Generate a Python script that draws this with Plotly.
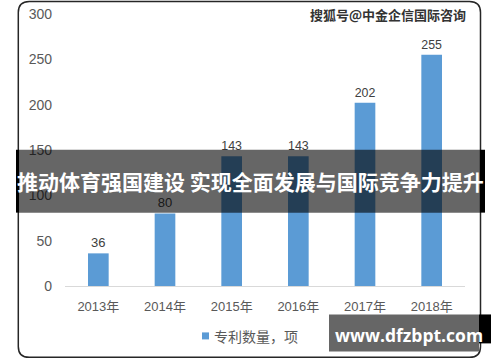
import plotly.graph_objects as go

years = ["2013年", "2014年", "2015年", "2016年", "2017年", "2018年"]
patents = [36, 80, 143, 143, 202, 255]
series_name = "专利数量，项"
y_ticks = [0, 50, 100, 150, 200, 250, 300]
title_text = "推动体育强国建设 实现全面发展与国际竞争力提升"
watermark_text = "搜狐号@中金企信国际咨询"
site_text = "www.dfzbpt.com"

W, H = 500, 362
L, R, T, B = 65, 35, 14, 75.5
PW = W - L - R
PH = H - T - B

def px(x):
    return (x - L) / PW

def py(y):
    return (H - B - y) / PH

FONT = "Liberation Sans, Noto Sans CJK SC, sans-serif"
CJK = "Noto Sans CJK SC, sans-serif"
GREY = "#595959"
BLUE = "#5b9bd5"

fig = go.Figure()
fig.add_trace(go.Bar(
    x=years, y=patents, name=series_name,
    marker=dict(color=BLUE, line=dict(width=0)),
    text=patents, textposition="outside", cliponaxis=False,
    textfont=dict(size=13, color="#404040", family=FONT),
    showlegend=False,
))

shapes = []
# rounded outer frame
x0, x1, y0, y1, r = 18.3, 480.5, 1.5, 358, 11
path = (f"M {px(x0+r)},{py(y0)} L {px(x1-r)},{py(y0)} "
        f"Q {px(x1)},{py(y0)} {px(x1)},{py(y0+r)} L {px(x1)},{py(y1-r)} "
        f"Q {px(x1)},{py(y1)} {px(x1-r)},{py(y1)} L {px(x0+r)},{py(y1)} "
        f"Q {px(x0)},{py(y1)} {px(x0)},{py(y1-r)} L {px(x0)},{py(y0+r)} "
        f"Q {px(x0)},{py(y0)} {px(x0+r)},{py(y0)} Z")
shapes.append(dict(type="path", path=path, xref="paper", yref="paper",
                   line=dict(color="#262626", width=1.5), layer="above"))

def rect(xa, ya, xb, yb, color):
    shapes.append(dict(type="rect", xref="paper", yref="paper",
                       x0=px(xa), x1=px(xb), y0=py(yb), y1=py(ya),
                       fillcolor=color, line=dict(width=0), layer="above"))

# legend swatch
rect(202, 333, 209, 340, BLUE)
# banner
rect(19, 150, 480, 213, "rgba(0,0,0,0.6)")
rect(16, 150, 19, 213, "#000000")
rect(480, 150, 485, 213, "#000000")
# site box
rect(479, 315, 491, 344, "#000000")
rect(329, 315, 479, 352, "#666666")

annotations = [
    dict(text=series_name, x=px(212), y=py(337), xref="paper", yref="paper",
         showarrow=False, xanchor="left", yanchor="middle",
         font=dict(size=14, color=GREY, family=CJK)),
    dict(text=f"<b>{title_text}</b>", x=px(250.5), y=py(181.5), xref="paper", yref="paper",
         showarrow=False, xanchor="center", yanchor="middle",
         font=dict(size=21, color="white", family=CJK)),
    dict(text=f"<b>{watermark_text}</b>", x=px(468), y=py(14), xref="paper", yref="paper",
         showarrow=False, xanchor="right", yanchor="middle",
         font=dict(size=13, color="#333333", family=CJK)),
    dict(text=f"<b>{site_text}</b>", x=px(408.5), y=py(336), xref="paper", yref="paper",
         showarrow=False, xanchor="center", yanchor="middle",
         font=dict(size=17.5, color="white", family="Open Sans, Liberation Sans, sans-serif")),
]

fig.update_layout(
    width=W, height=H,
    margin=dict(l=L, r=R, t=T, b=B, pad=0, autoexpand=False),
    paper_bgcolor="white", plot_bgcolor="white",
    font=dict(family=FONT, color=GREY, size=13),
    bargap=0.69,
    shapes=shapes,
    annotations=annotations,
    showlegend=False,
    xaxis=dict(type="category", showgrid=False, showline=True, linecolor="#d9d9d9",
               linewidth=1, ticks="", tickfont=dict(size=13, color=GREY, family=FONT),
               ticklabelstandoff=8, automargin=False),
    yaxis=dict(range=[0, 300], tickvals=y_ticks, showgrid=False, zeroline=False,
               showline=False, ticks="", tickfont=dict(size=14, color=GREY, family=FONT),
               ticklabelstandoff=12, automargin=False),
)

fig.write_html("out.html", config={"displayModeBar": False},
               post_script="document.body.style.margin='0';document.body.style.overflow='hidden';")
